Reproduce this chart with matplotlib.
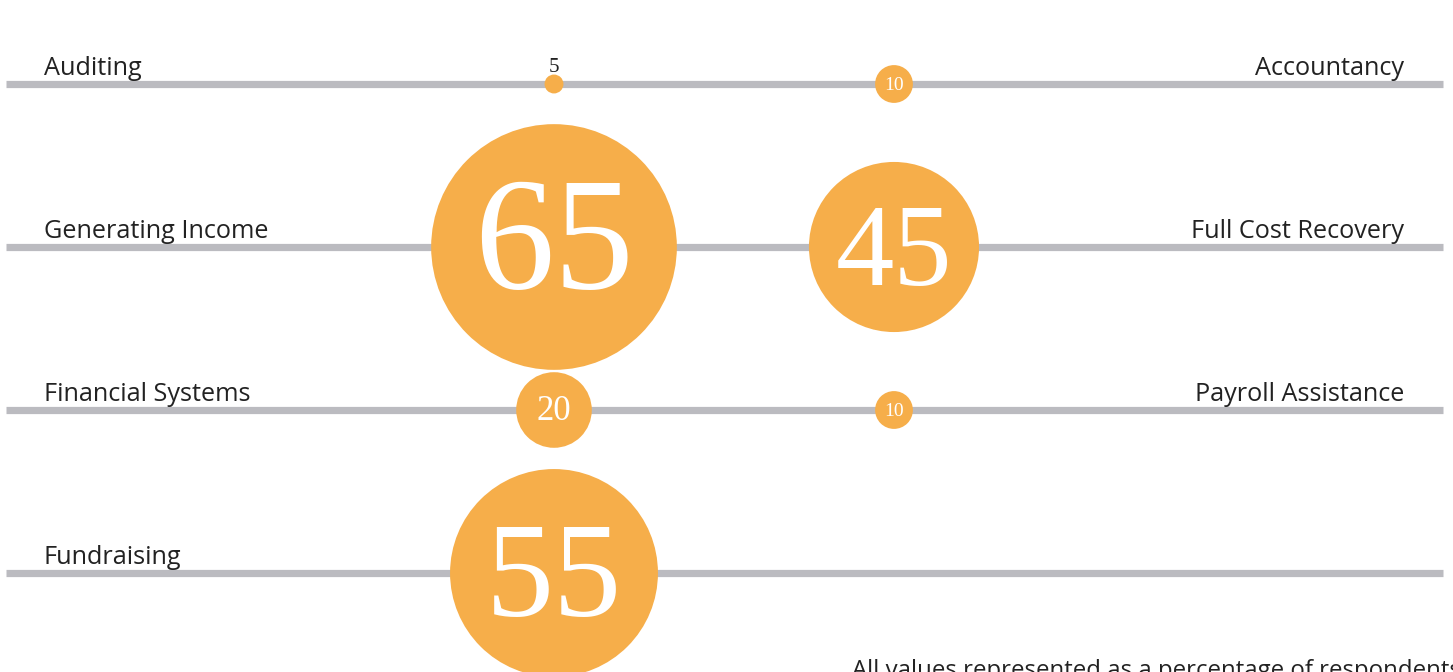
import matplotlib.pyplot as plt
from matplotlib.patches import Circle

# data
left_labels = ['Auditing', 'Generating Income', 'Financial Systems', 'Fundraising']
left_values = [5, 65, 20, 55]
right_labels = ['Accountancy', 'Full Cost Recovery', 'Payroll Assistance', '']
right_values = [10, 45, 10, None]
note = 'All values represented as a percentage of respondents'

W, H = 1453, 672
orange = '#F6AE4A'
grey = '#BBBBC0'
row_y = [84, 247, 410, 573]
col_x = [554, 894]
px_per_unit = 1.89  # radius is linear in value

fig = plt.figure(figsize=(W / 100, H / 100), dpi=100)
ax = fig.add_axes([0, 0, 1, 1])
ax.set_xlim(0, W)
ax.set_ylim(H, 0)
ax.axis('off')

sans = ['Open Sans', 'DejaVu Sans']
serif = ['Liberation Serif', 'DejaVu Serif']


def num_style(v):
    # font size and vertical nudge for the number inside a bubble
    if v >= 60:
        return 115, 2
    if v >= 50:
        return 98, 10
    if v >= 40:
        return 84, 10
    if v >= 20:
        return 25, 2
    return 14, 2


for i, y in enumerate(row_y):
    ax.plot([6, 1443], [y, y], color=grey, lw=5.2, solid_capstyle='butt', zorder=1)
    ax.text(44, y - 9, left_labels[i], ha='left', va='baseline', fontsize=18.2,
            family=sans, weight='medium', color='#222222')
    if right_labels[i]:
        ax.text(1404, y - 9, right_labels[i], ha='right', va='baseline', fontsize=18.2,
                family=sans, weight='medium', color='#222222')

    for x, v in zip(col_x, [left_values[i], right_values[i]]):
        if v is None:
            continue
        r = v * px_per_unit
        ax.add_patch(Circle((x, y), r, color=orange, lw=0, zorder=2))
        if v < 10:
            ax.text(x, y - 12, str(v), ha='center', va='baseline', fontsize=15,
                    family=serif, color='#222222', zorder=3)
        else:
            fs, dy = num_style(v)
            ax.text(x, y + dy, str(v), ha='center', va='center', fontsize=fs,
                    family=serif, color='white', zorder=3)

ax.text(852, 677, note, ha='left', va='baseline', fontsize=17.3, family=sans,
        color='#222222')

fig.savefig('out.png', dpi=100)
